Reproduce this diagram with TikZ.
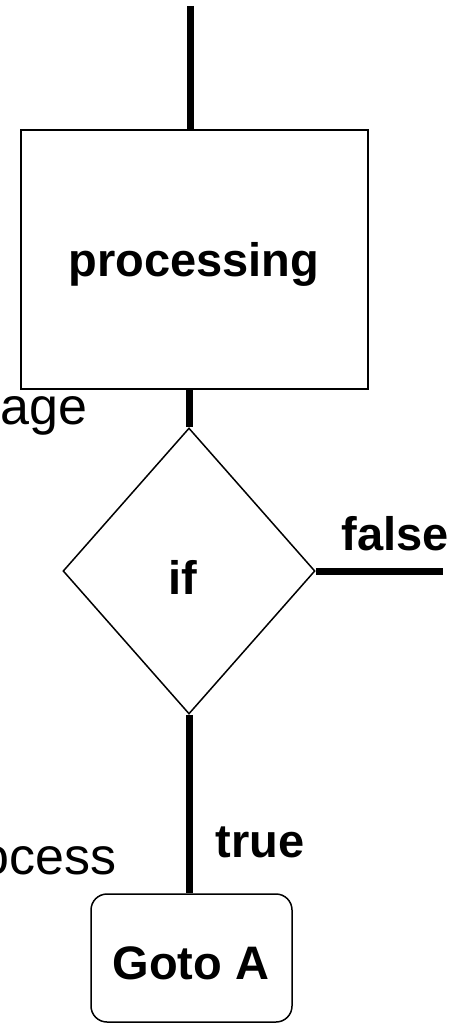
\documentclass[tikz,border=0pt]{standalone}
\usepackage{fontspec}
\setmainfont{Liberation Sans}
\usetikzlibrary{shapes.geometric}
\begin{document}
\begin{tikzpicture}[x=1pt,y=-1pt,
  flow/.style={line width=7pt},
  boxline/.style={draw,line width=2pt},
  thinline/.style={draw,line width=1.5pt},
  lbl/.style={inner sep=0pt,font=\fontsize{47}{56}\selectfont\bfseries},
  plain/.style={inner sep=0pt,font=\fontsize{52}{62}\selectfont}]
  \useasboundingbox (0,0) rectangle (464,1024);
  \clip (0,0) rectangle (464,1024);
  % process block
  \node[boxline,rectangle,inner sep=0pt,minimum width=347pt,minimum height=259pt] (proc) at (194.5,259.5) {};
  \node[lbl,anchor=base] (proctxt) at (194,276) {processing};
  % decision
  \node[thinline,diamond,inner sep=0pt,minimum width=252pt,minimum height=286pt] (dia) at (189,571) {};
  \node[lbl,anchor=base] (iftxt) at (183,594) {if};
  % jump target
  \node[thinline,rectangle,rounded corners=16pt,inner sep=0pt,minimum width=201pt,minimum height=128pt] (goto) at (191.5,958) {};
  \node[lbl,anchor=base] (gototxt) at (191,979) {Goto A};
  % connectors
  \coordinate (top) at (190,6);
  \coordinate (falseend) at (443,571);
  \draw[flow] (top) -- (top |- proc.north);
  \draw[flow] (dia.north |- proc.south) -- (dia.north);
  \draw[flow] (dia.east) -- (falseend);
  \draw[flow] (dia.south) -- (dia.south |- goto.north);
  % branch labels
  \node[lbl,anchor=base] (falsetxt) at (395,550) {false};
  \node[lbl,anchor=base] (truetxt) at (260,857) {true};
  % side texts
  \node[plain,anchor=base west] (agetxt) at (0,424) {age};
  \node[plain,anchor=base east] (ocesstxt) at (117,874) {ocess};
\end{tikzpicture}
\end{document}
